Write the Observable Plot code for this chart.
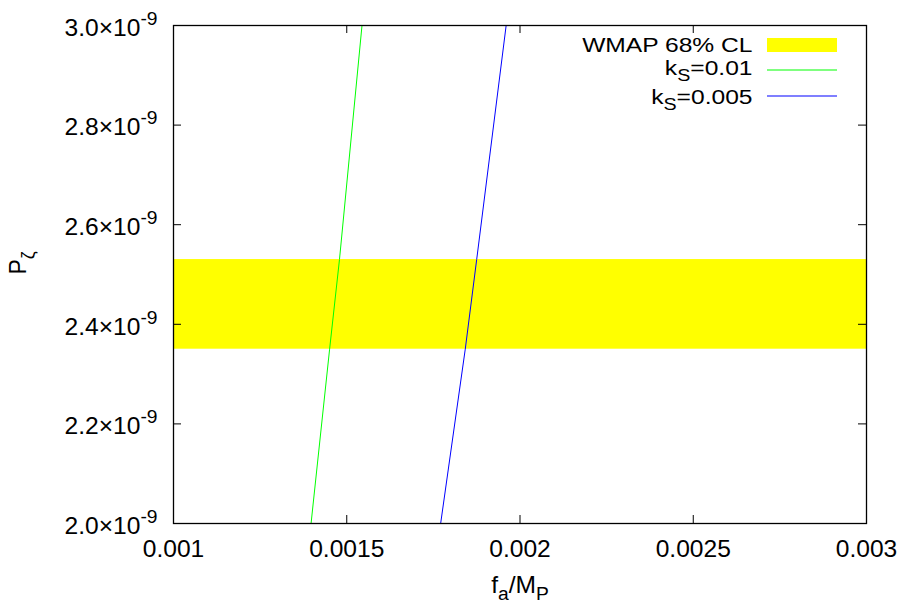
<!DOCTYPE html>
<html>
<head>
<meta charset="utf-8">
<script src="https://cdn.jsdelivr.net/npm/d3@7"></script>
<script src="https://cdn.jsdelivr.net/npm/@observablehq/plot@0.6"></script>
<style>
  body { margin: 0; background: #fff; }
  #chart svg { display: block; }
</style>
</head>
<body>
<div id="chart"></div>
<script>
// ---- data ----
const xTicks = [0.001, 0.0015, 0.002, 0.0025, 0.003];
const xTickLabels = ["0.001", "0.0015", "0.002", "0.0025", "0.003"];
const yTicks = [2.0e-9, 2.2e-9, 2.4e-9, 2.6e-9, 2.8e-9, 3.0e-9];
const yTickLabels = ["2.0", "2.2", "2.4", "2.6", "2.8", "3.0"];
const yTickExponent = "-9";

const bandLabel = "WMAP 68% CL";
const bandLow = 2.35e-9;
const bandHigh = 2.53e-9;

const seriesLabels = ["k_{S}=0.01", "k_{S}=0.005"];
const seriesColors = ["#00ff00", "#0000ff"];
const greenF = [0.001397, 0.0014505, 0.001479, 0.001544];
const greenP = [2.0e-9, 2.35e-9, 2.53e-9, 3.0e-9];
const blueF = [0.001771, 0.001842, 0.001875, 0.00196];
const blueP = [2.0e-9, 2.35e-9, 2.53e-9, 3.0e-9];

const xLabel = "f_{a}/M_{P}";
const yLabel = "P_{ζ}";

// ---- build ----
const W = 906, H = 606;
const mL = 173, mR = 40, mT = 25, mB = 83;
const fw = W - mL - mR, fh = H - mT - mB;
const FS = 23;        // axis text
const LFS = 20;       // legend text
const STRETCH = 1.07;
const LSTRETCH = 1.23;

const green = greenF.map((f, i) => ({f, P: greenP[i]}));
const blue = blueF.map((f, i) => ({f, P: blueP[i]}));
const xLab = new Map(xTicks.map((t, i) => [t, xTickLabels[i]]));
const yLab = new Map(yTicks.map((t, i) => [t, yTickLabels[i] + "×10^{" + yTickExponent + "}"]));

// legend geometry (frame-relative, pixels)
const legL = 767 - mL, legR = (mL + fw) - 837;
const rectAt = (top, bottom, fill) =>
  Plot.rect([0], {fill, insetLeft: legL, insetRight: legR, insetTop: top - mT, insetBottom: (mT + fh) - bottom});
const legendText = (label, dy) =>
  Plot.text([label], {text: d => d, frameAnchor: "top-right", lineAnchor: "middle", dx: -114, dy, textAnchor: "end", fontSize: LFS, className: "legend-text"});

const plot = Plot.plot({
  width: W, height: H,
  marginLeft: mL, marginRight: mR, marginTop: mT, marginBottom: mB,
  style: {fontFamily: "'Liberation Sans', Arial, Helvetica, sans-serif", fontSize: FS + "px", color: "#000", background: "#fff"},
  x: {domain: [0.001, 0.003]},
  y: {domain: [2.0e-9, 3.0e-9]},
  marks: [
    Plot.rect([{lo: bandLow, hi: bandHigh}], {y1: "lo", y2: "hi", fill: "#ffff00"}),
    Plot.line(green, {x: "f", y: "P", stroke: seriesColors[0], strokeWidth: 1}),
    Plot.line(blue, {x: "f", y: "P", stroke: seriesColors[1], strokeWidth: 1}),
    // inward ticks on all four sides
    Plot.tickX(xTicks, {x: d => d, insetTop: fh - 8, stroke: "#000"}),
    Plot.tickX(xTicks, {x: d => d, insetBottom: fh - 8, stroke: "#000"}),
    Plot.tickY(yTicks, {y: d => d, insetRight: fw - 8, stroke: "#000"}),
    Plot.tickY(yTicks, {y: d => d, insetLeft: fw - 8, stroke: "#000"}),
    Plot.frame({stroke: "#000", strokeWidth: 1.3}),
    Plot.axisX(xTicks, {tickSize: 0, tickPadding: 17, tickFormat: d => xLab.get(d), label: null, fontSize: FS}),
    Plot.axisY(yTicks, {tickSize: 0, tickPadding: 16, dy: 3, tickFormat: d => yLab.get(d), label: null, fontSize: FS}),
    Plot.text([xLabel], {text: d => d, frameAnchor: "bottom", lineAnchor: "middle", dy: 62, fontSize: FS}),
    Plot.text([yLabel], {text: d => d, frameAnchor: "left", lineAnchor: "middle", dx: -155, rotate: -90, fontSize: FS}),
    // legend
    legendText(bandLabel, 20),
    legendText(seriesLabels[0], 43),
    legendText(seriesLabels[1], 72),
    rectAt(38, 52, "#ffff00"),
    rectAt(69.5, 70.5, seriesColors[0]),
    rectAt(95.5, 96.5, seriesColors[1])
  ]
});

// rich text: _{sub} and ^{sup}
d3.select(plot).selectAll("text").each(function () {
  const t = this.textContent;
  if (!/[_^]\{/.test(t)) return;
  const isLegend = !!this.closest(".legend-text");
  const parts = t.split(/([_^]\{[^}]*\})/).filter(p => p !== "");
  const el = d3.select(this);
  el.text(null);
  let off = 0;
  for (const p of parts) {
    const m = p.match(/^([_^])\{(.*)\}$/);
    const ts = el.append("tspan");
    if (m) {
      const shift = m[1] === "_" ? (isLegend ? 6 : 7) : -11;
      ts.attr("dy", shift - off).attr("font-size", (isLegend ? 16 : 18) + "px").text(m[2]);
      off = shift;
    } else {
      if (off !== 0) ts.attr("dy", -off);
      ts.text(p);
      off = 0;
    }
  }
});
// the reference's glyphs are horizontally stretched: scale each text about its anchor
d3.select(plot).selectAll("text").each(function () {
  const tr = this.getAttribute("transform") || "";
  const lx = parseFloat(this.getAttribute("x")) || 0;
  const s = this.closest(".legend-text") ? LSTRETCH : STRETCH;
  if (/rotate/.test(tr)) {
    this.setAttribute("transform", `${tr} scale(1,${s})`);
  } else {
    this.setAttribute("transform", `${tr} translate(${lx},0) scale(${s},1) translate(${-lx},0)`);
  }
});

document.getElementById("chart").appendChild(plot);
</script>
</body>
</html>
